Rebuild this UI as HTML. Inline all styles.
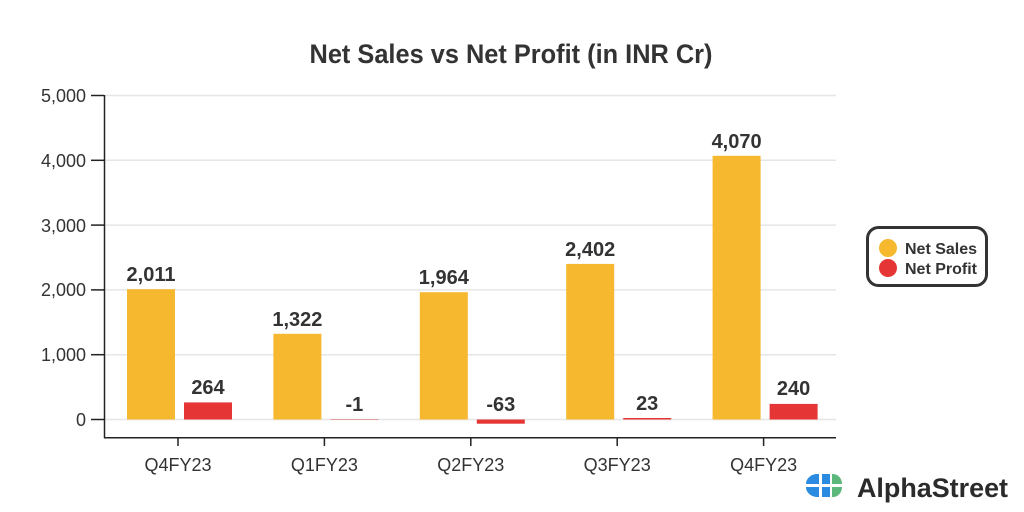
<!DOCTYPE html>
<html><head><meta charset="utf-8"><style>
html,body{margin:0;padding:0;background:#fff;}
svg{display:block;font-family:"Liberation Sans Narrow","Liberation Sans",sans-serif;}
</style></head><body>
<svg width="1024" height="512" viewBox="0 0 1024 512" xmlns="http://www.w3.org/2000/svg">
<rect width="1024" height="512" fill="#fff"/>
<text x="511" y="63" text-anchor="middle" font-size="27" font-weight="bold" fill="#333" textLength="403" lengthAdjust="spacingAndGlyphs">Net Sales vs Net Profit (in INR Cr)</text>
<g stroke="#e6e6e6" stroke-width="1.5">
<line x1="105" x2="836" y1="95.5" y2="95.5"/>
<line x1="105" x2="836" y1="160.3" y2="160.3"/>
<line x1="105" x2="836" y1="225.1" y2="225.1"/>
<line x1="105" x2="836" y1="289.9" y2="289.9"/>
<line x1="105" x2="836" y1="354.7" y2="354.7"/>
<line x1="105" x2="836" y1="419.5" y2="419.5"/>
</g>
<g stroke="#222" stroke-width="1.5">
<line x1="104.5" x2="104.5" y1="95" y2="438"/>
<line x1="104" x2="836" y1="437.7" y2="437.7"/>
<line x1="91" x2="104" y1="95.5" y2="95.5"/>
<line x1="91" x2="104" y1="160.3" y2="160.3"/>
<line x1="91" x2="104" y1="225.1" y2="225.1"/>
<line x1="91" x2="104" y1="289.9" y2="289.9"/>
<line x1="91" x2="104" y1="354.7" y2="354.7"/>
<line x1="91" x2="104" y1="419.5" y2="419.5"/>
<line x1="178" x2="178" y1="438" y2="446"/>
<line x1="324.4" x2="324.4" y1="438" y2="446"/>
<line x1="470.8" x2="470.8" y1="438" y2="446"/>
<line x1="617.2" x2="617.2" y1="438" y2="446"/>
<line x1="763.6" x2="763.6" y1="438" y2="446"/>
</g>
<g font-size="18" fill="#333" text-anchor="end">
<text x="86" y="102">5,000</text>
<text x="86" y="167">4,000</text>
<text x="86" y="232">3,000</text>
<text x="86" y="296">2,000</text>
<text x="86" y="361">1,000</text>
<text x="86" y="426">0</text>
</g>
<g font-size="18" fill="#333" text-anchor="middle">
<text x="178" y="471">Q4FY23</text>
<text x="324.4" y="471">Q1FY23</text>
<text x="470.8" y="471">Q2FY23</text>
<text x="617.2" y="471">Q3FY23</text>
<text x="763.6" y="471">Q4FY23</text>
</g>
<g fill="#f5b82e">
<rect x="127" y="289.2" width="48" height="130.3"/>
<rect x="273.4" y="333.8" width="48" height="85.7"/>
<rect x="419.8" y="292.2" width="48" height="127.3"/>
<rect x="566.2" y="263.9" width="48" height="155.6"/>
<rect x="712.6" y="155.8" width="48" height="263.7"/>
</g>
<g fill="#e53535">
<rect x="184" y="402.4" width="48" height="17.1"/>
<rect x="330.4" y="419.3" width="48" height="0.4"/>
<rect x="476.8" y="419.5" width="48" height="4.2"/>
<rect x="623.2" y="418" width="48" height="1.5"/>
<rect x="769.6" y="403.9" width="48" height="15.6"/>
</g>
<g font-size="20" font-weight="bold" fill="#333" text-anchor="middle">
<text x="151" y="281">2,011</text>
<text x="297.4" y="326">1,322</text>
<text x="443.8" y="284">1,964</text>
<text x="590.2" y="256">2,402</text>
<text x="736.6" y="148">4,070</text>
<text x="208" y="394">264</text>
<text x="354.4" y="411">-1</text>
<text x="500.8" y="411">-63</text>
<text x="647.2" y="410">23</text>
<text x="793.6" y="395">240</text>
</g>
<rect x="867.5" y="227.5" width="119" height="58" rx="11" fill="#fff" stroke="#333" stroke-width="3"/>
<circle cx="888" cy="248" r="9" fill="#f5b82e"/>
<circle cx="888" cy="268" r="9" fill="#e53535"/>
<g font-size="16" font-weight="bold" fill="#333">
<text x="905" y="254">Net Sales</text>
<text x="905" y="274">Net Profit</text>
</g>
<g>
<path d="M806 484 a12 10 0 0 1 10 -10 h3 v10 z" fill="#2a8be0"/>
<path d="M806 487 h13 v10 h-3 a12 10 0 0 1 -10 -10 z" fill="#2a8be0"/>
<path d="M822 474 h8 v10 h-8 z" fill="#2a8be0"/>
<path d="M822 487 h8 v10 h-8 z" fill="#2a8be0"/>
<path d="M832 474 h1 a9 10 0 0 1 9 10 h-10 z" fill="#5bb87a"/>
<path d="M832 487 h10 a9 10 0 0 1 -9 10 h-1 z" fill="#5bb87a"/>
</g>
<text x="857" y="497" font-family="Liberation Sans,sans-serif" font-size="27" font-weight="bold" fill="#2b2b2b" textLength="151" lengthAdjust="spacingAndGlyphs">AlphaStreet</text>
</svg>
</body></html>
